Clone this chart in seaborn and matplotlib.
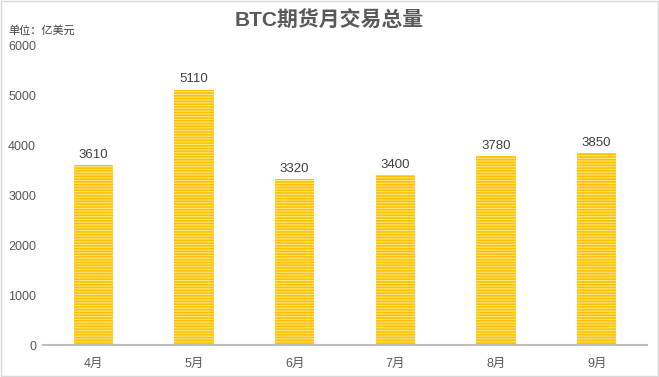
import matplotlib
matplotlib.use("Agg")
import matplotlib.pyplot as plt
import seaborn as sns
import pandas as pd
from matplotlib.patches import Rectangle

months = ["4月", "5月", "6月", "7月", "8月", "9月"]
volumes = [3610, 5110, 3320, 3400, 3780, 3850]
yticks = [0, 1000, 2000, 3000, 4000, 5000, 6000]
title = "BTC期货月交易总量"
unit_label = "单位：亿美元"

sns.set_theme(style="white")
plt.rcParams['font.family'] = ['Liberation Sans', 'Noto Sans CJK SC', 'DejaVu Sans']
plt.rcParams['hatch.color'] = '#FFC000'
plt.rcParams['hatch.linewidth'] = 1.2

df = pd.DataFrame({"month": months, "volume": volumes})

fig = plt.figure(figsize=(6.59, 3.77), dpi=100)
ax = fig.add_axes([43/659, 32/377, (647-43)/659, 300/377])

sns.barplot(data=df, x="month", y="volume", color="#FFE680", width=0.39, ax=ax,
            saturation=1)
for p in ax.patches:
    p.set_facecolor("#FFE680")
    p.set_edgecolor("#FFC000")
    p.set_linewidth(0)
    p.set_hatch("------")

for i, v in enumerate(volumes):
    ax.text(i, v + 80, str(v), ha="center", va="bottom", fontsize=9.5, color="#404040")

ax.set_ylim(0, 6000)
ax.set_xlim(-0.5, len(months) - 0.5)
ax.set_yticks(yticks)
ax.set_yticklabels([str(t) for t in yticks])
ax.set_xlabel("")
ax.set_ylabel("")
for s in ["top", "right", "left"]:
    ax.spines[s].set_visible(False)
ax.spines["bottom"].set_color("#BFBFBF")
ax.spines["bottom"].set_linewidth(1.5)
ax.tick_params(axis="both", length=0, labelsize=9, colors="#595959")
ax.tick_params(axis="x", pad=9)
ax.tick_params(axis="y", pad=5)
ax.grid(False)

fig.text(0.5, 0.945, title, ha="center", va="center", fontsize=15, fontweight="bold",
         color="#595959")
fig.text(8/659, 1 - 30/377, unit_label, ha="left", va="center", fontsize=8,
         color="#404040")

fig.patches.append(Rectangle((0.002, 0.003), 0.996, 0.994, transform=fig.transFigure,
                             fill=False, edgecolor="#D9D9D9", linewidth=1))

fig.savefig("out.png", dpi=100)
